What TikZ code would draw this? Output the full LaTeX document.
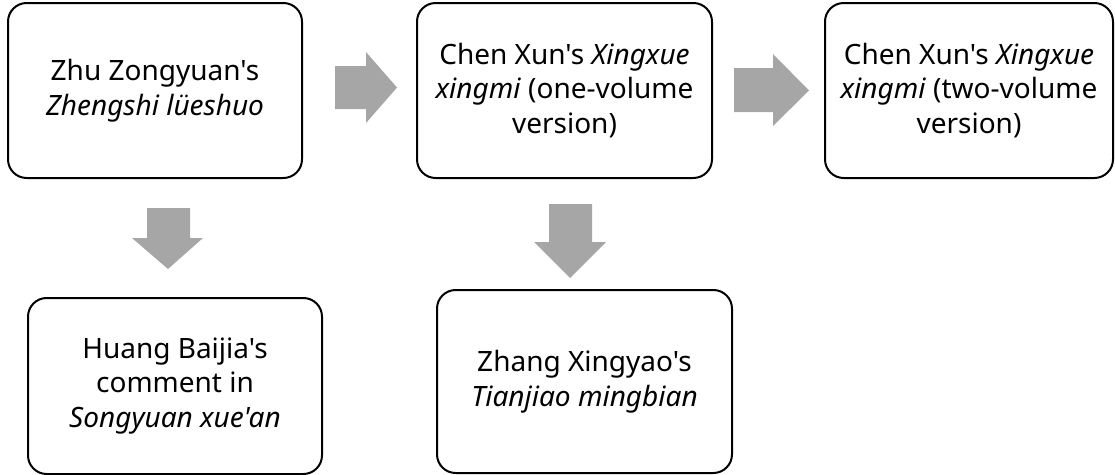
\documentclass[tikz,border=0pt]{standalone}
\usepackage{fontspec}
\newfontfamily\nf{Noto Sans}
\definecolor{arrowgray}{RGB}{166,166,166}
\begin{document}
\begin{tikzpicture}[x=0.75pt,y=-0.75pt,
  box/.style={draw=black, line width=1.5pt, rounded corners=14pt, fill=white,
    inner sep=0pt, align=center, font=\nf\fontsize{21}{26}\selectfont},
  blockarrow/.style={fill=arrowgray, draw=none}]
\useasboundingbox (0,0) rectangle (1115,475);
\node[box, minimum width=220.5pt, minimum height=131.25pt] (zhu) at (155,90.5)
  {Zhu Zongyuan's\\\textit{Zhengshi lüeshuo}};
\node[box, minimum width=221.25pt, minimum height=131.25pt] (chen1) at (564.5,90.5)
  {Chen Xun's \textit{Xingxue}\\\textit{xingmi} (one-volume\\version)};
\node[box, minimum width=216pt, minimum height=131.25pt] (chen2) at (969,90.5)
  {Chen Xun's \textit{Xingxue}\\\textit{xingmi} (two-volume\\version)};
\node[box, minimum width=220.5pt, minimum height=132pt] (huang) at (175,386)
  {Huang Baijia's\\comment in\\\textit{Songyuan xue'an}};
\node[box, minimum width=221.25pt, minimum height=137.25pt] (zhang) at (584.5,381.5)
  {Zhang Xingyao's\\\textit{Tianjiao mingbian}};
% block arrows
\fill[blockarrow] (335,66) -- (366,66) -- (366,52) -- (397,87.5) -- (366,123) -- (366,109) -- (335,109) -- cycle;
\fill[blockarrow] (734,68) -- (773,68) -- (773,54) -- (809,90.5) -- (773,126) -- (773,112) -- (734,112) -- cycle;
\fill[blockarrow] (147,208) -- (190,208) -- (190,238) -- (203,238) -- (168,269) -- (132,238) -- (147,238) -- cycle;
\fill[blockarrow] (549,204) -- (592,204) -- (592,242) -- (606,242) -- (570,278) -- (534,242) -- (549,242) -- cycle;
\end{tikzpicture}
\end{document}
